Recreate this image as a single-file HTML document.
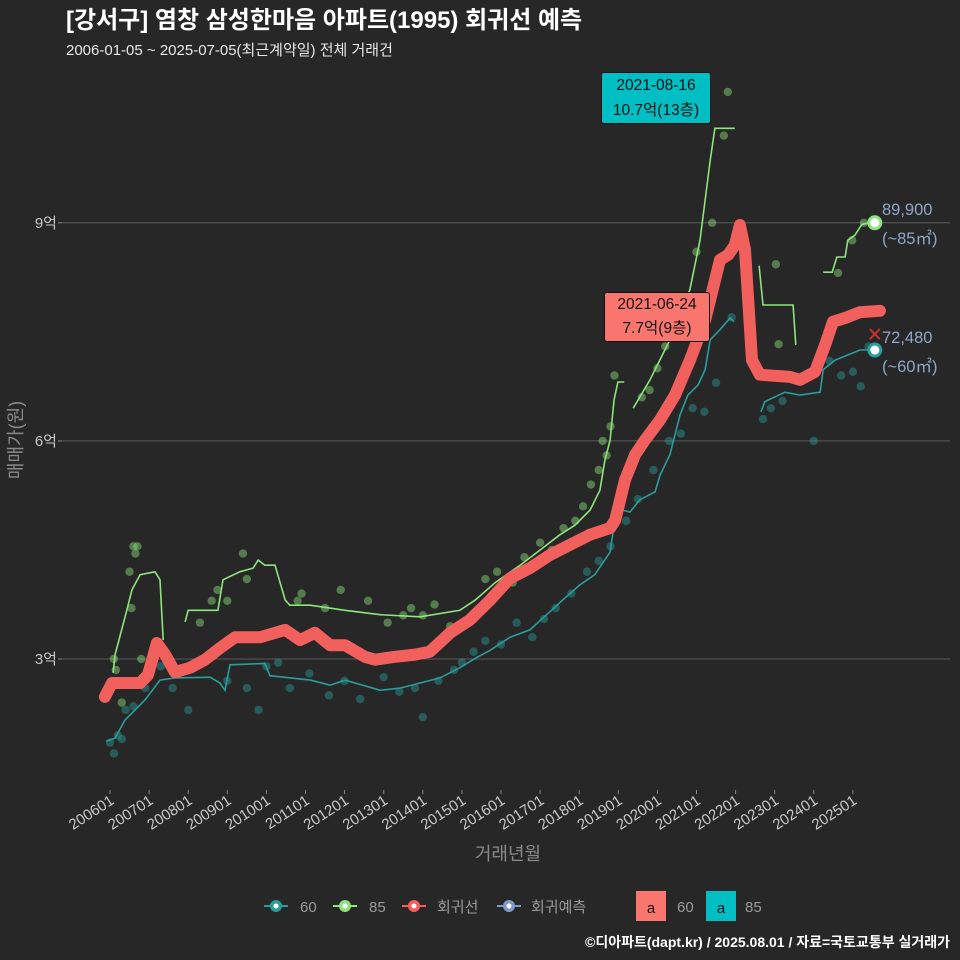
<!DOCTYPE html>
<html><head><meta charset="utf-8">
<style>
body{margin:0;background:#272727;}
svg{display:block;font-family:"Liberation Sans","Noto Sans CJK KR",sans-serif;}
</style></head>
<body>
<svg id="chart" width="960" height="960" viewBox="0 0 960 960">
<rect width="960" height="960" fill="#272727"/>
<text x="66" y="28" fill="#ffffff" font-size="24" font-weight="bold">[강서구] 염창 삼성한마음 아파트(1995) 회귀선 예측</text>
<text x="66" y="55" fill="#e8e8e8" font-size="15">2006-01-05 ~ 2025-07-05(최근계약일) 전체 거래건</text>
<g id="grid"></g>
<g id="yaxis"></g>
<g id="xaxis"></g>
<g id="points"></g>
<g id="lines"></g>
<text x="0" y="0" transform="translate(22,440) rotate(-90)" text-anchor="middle" fill="#8a8a8a" font-size="18">매매가(원)</text>
<text x="508" y="860" text-anchor="middle" fill="#8a8a8a" font-size="18">거래년월</text>
<g font-size="15" fill="#9a9a9a">
 <g><line x1="264" y1="906" x2="288" y2="906" stroke="#2a9d9c" stroke-width="2"/><circle cx="276" cy="906" r="6" fill="#2a9d9c"/><circle cx="276" cy="906" r="2.5" fill="#fff"/><text x="300" y="912" fill="#9a9a9a">60</text></g>
 <g><line x1="333" y1="906" x2="357" y2="906" stroke="#8fe47d" stroke-width="2"/><circle cx="345" cy="906" r="6" fill="#8fe47d"/><circle cx="345" cy="906" r="2.5" fill="#fff"/><text x="369" y="912" fill="#9a9a9a">85</text></g>
 <g><line x1="402" y1="906" x2="426" y2="906" stroke="#f2605e" stroke-width="2"/><circle cx="414" cy="906" r="6" fill="#f2605e"/><circle cx="414" cy="906" r="2.5" fill="#fff"/><text x="437" y="912" fill="#9a9a9a">회귀선</text></g>
 <g><line x1="497" y1="906" x2="521" y2="906" stroke="#7f9bc5" stroke-width="2"/><circle cx="509" cy="906" r="6" fill="#7f9bc5"/><circle cx="509" cy="906" r="2.5" fill="#fff"/><text x="531" y="912" fill="#9a9a9a">회귀예측</text></g>
 <g><rect x="636" y="891" width="30" height="30" fill="#f8766d"/><text x="651" y="913" text-anchor="middle" fill="#111">a</text><text x="677" y="912" fill="#9a9a9a">60</text></g>
 <g><rect x="706" y="891" width="30" height="30" fill="#00bfc4"/><text x="721" y="913" text-anchor="middle" fill="#111">a</text><text x="745" y="912" fill="#9a9a9a">85</text></g>
</g>
<text x="950" y="947" text-anchor="end" fill="#ffffff" font-size="14" font-weight="bold">©디아파트(dapt.kr) / 2025.08.01 / 자료=국토교통부 실거래가</text>
</svg>
<script>
const yTicks=[3,6,9];
const yTickLabels=["3억","6억","9억"];
const xTickYears=[2006,2007,2008,2009,2010,2011,2012,2013,2014,2015,2016,2017,2018,2019,2020,2021,2022,2023,2024,2025];
const xTickLabels=["200601","200701","200801","200901","201001","201101","201201","201301","201401","201501","201601","201701","201801","201901","202001","202101","202201","202301","202401","202501"];
const regT=[2005.87,2006.05,2006.26,2006.77,2006.97,2007.20,2007.41,2007.66,2008.05,2008.43,2008.81,2009.20,2009.84,2010.48,2010.86,2011.24,2011.63,2012.01,2012.52,2012.78,2013.29,2013.80,2014.18,2014.70,2015.21,2015.72,2016.23,2016.74,2017.25,2017.76,2018.28,2018.79,2018.92,2019.17,2019.43,2019.68,2020.07,2020.45,2020.83,2021.22,2021.60,2021.81,2021.98,2022.11,2022.24,2022.42,2022.62,2023.39,2023.65,2024.03,2024.29,2024.49,2024.80,2025.18,2025.69];
const regV=[2.48,2.67,2.67,2.67,2.78,3.22,3.06,2.82,2.88,2.99,3.15,3.30,3.30,3.40,3.26,3.36,3.19,3.19,3.03,2.99,3.03,3.06,3.10,3.36,3.54,3.81,4.11,4.25,4.43,4.57,4.71,4.80,4.91,5.46,5.81,6.01,6.29,6.63,7.11,7.66,8.49,8.56,8.69,8.97,8.63,7.11,6.91,6.88,6.84,6.95,7.32,7.64,7.69,7.77,7.79];
const g85T=[[2006.08,2006.13,2006.43,2006.56,2006.77,2007.15,2007.28,2007.36],[2007.92,2008.0,2008.76,2008.89,2009.32,2009.66,2009.79,2009.96,2010.22,2010.48,2010.6,2011.12,2012.01,2012.91,2013.93,2014.95,2015.34,2015.85,2016.49,2017.0,2017.51,2017.89,2018.28,2018.53,2018.66,2018.79,2018.89,2018.99,2019.15],[2019.38,2019.81,2020.32,2020.83,2021.09,2021.22,2021.35,2021.47,2021.98],[2022.60,2022.70,2023.47,2023.54],[2024.24,2024.47,2024.59,2024.80,2024.87,2025.05,2025.23,2025.56]];
const g85V=[[2.81,3.06,3.67,3.95,4.16,4.20,4.09,3.26],[3.51,3.67,3.67,4.09,4.20,4.25,4.36,4.29,4.29,3.81,3.74,3.74,3.67,3.61,3.58,3.67,3.81,4.05,4.29,4.50,4.71,4.84,5.05,5.32,5.74,6.01,6.56,6.81,6.81],[6.45,6.84,7.39,8.08,8.76,9.31,9.86,10.30,10.30],[8.41,7.87,7.87,7.32],[8.32,8.32,8.53,8.53,8.76,8.83,8.98,9.01]];
const g60T=[[2005.9,2006.13,2006.38,2006.9,2007.28,2007.66,2008.56,2008.81,2008.94,2009.07,2009.96,2010.09,2011.12,2011.63,2012.01,2012.91,2013.42,2013.93,2014.44,2014.95,2015.34,2015.72,2016.23,2016.74,2017.25,2017.64,2018.02,2018.40,2018.79,2018.99,2019.09,2019.30,2019.55,2019.94,2020.07,2020.32,2020.58,2020.78,2021.04,2021.22,2021.35,2021.60,2021.86,2021.96],[2022.65,2022.75,2023.26,2023.65,2024.16,2024.24,2024.54,2025.18,2025.56]];
const g60V=[[1.87,1.91,2.16,2.44,2.71,2.74,2.75,2.67,2.57,2.92,2.94,2.77,2.71,2.64,2.71,2.57,2.60,2.67,2.74,2.88,3.01,3.12,3.30,3.40,3.65,3.84,4.02,4.16,4.47,5.19,5.05,5.02,5.19,5.30,5.53,5.81,6.36,6.63,6.77,6.98,7.39,7.53,7.69,7.64],[6.40,6.54,6.67,6.63,6.67,6.98,7.11,7.25,7.25]];
const p85T=[2006.1,2006.15,2006.3,2006.5,2006.55,2006.6,2006.7,2006.65,2006.8,2008.3,2008.6,2008.75,2009.0,2009.4,2009.5,2010.8,2010.9,2011.5,2011.9,2012.6,2013.1,2013.5,2013.7,2014.0,2014.3,2014.7,2015.3,2015.6,2015.9,2016.3,2016.6,2017.0,2017.3,2017.6,2017.9,2018.1,2018.3,2018.5,2018.7,2018.8,2018.6,2018.9,2019.6,2019.8,2020.0,2020.2,2021.0,2021.4,2021.8,2021.7,2023.03,2023.1,2024.62,2024.98,2025.28];
const p85V=[3.0,2.85,2.4,4.2,3.7,4.55,4.55,4.45,3.0,3.5,3.8,3.95,3.8,4.45,4.1,3.8,3.9,3.7,3.95,3.8,3.5,3.6,3.7,3.6,3.75,3.45,3.55,4.1,4.2,4.05,4.4,4.6,4.5,4.8,4.9,5.1,5.4,5.6,5.8,6.2,6.0,6.9,6.6,6.7,7.0,7.3,8.6,9.0,10.8,10.2,8.43,7.33,8.31,8.76,9.0];
const p60T=[2006.0,2006.1,2006.2,2006.3,2006.4,2006.6,2006.9,2007.3,2007.6,2008.0,2009.0,2009.5,2009.8,2010.0,2010.3,2010.6,2011.1,2011.6,2012.0,2012.4,2013.0,2013.4,2013.8,2014.0,2014.4,2014.8,2015.0,2015.3,2015.6,2016.0,2016.4,2016.8,2017.1,2017.4,2017.8,2018.2,2018.5,2018.8,2019.2,2019.5,2019.9,2020.3,2020.6,2020.9,2021.2,2021.5,2021.9,2022.7,2022.9,2023.2,2024.0,2024.4,2024.7,2025.0,2025.2,2025.4];
const p60V=[1.85,1.7,1.95,1.9,2.3,2.35,2.6,2.9,2.6,2.3,2.7,2.6,2.3,2.9,2.95,2.6,2.8,2.5,2.7,2.45,2.75,2.55,2.6,2.2,2.7,2.85,2.95,3.1,3.25,3.2,3.5,3.3,3.55,3.7,3.9,4.2,4.35,4.55,4.9,5.2,5.6,6.0,6.1,6.45,6.4,6.8,7.7,6.3,6.45,6.55,6.0,7.1,6.9,6.95,6.75,7.3];
const end85=[2025.56,9.0], end60=[2025.56,7.25], endPred=[2025.56,7.47];

const NS="http://www.w3.org/2000/svg";
const X=t=>110+(t-2006)*39.1;
const Y=v=>659-(v-3)*72.7;
function mk(tag,parent,attrs){const e=document.createElementNS(NS,tag);for(const k in attrs)e.setAttribute(k,attrs[k]);parent.appendChild(e);return e;}
const grid=document.getElementById('grid'),yax=document.getElementById('yaxis'),xax=document.getElementById('xaxis');
yTicks.forEach((v,i)=>{
 const l=mk('line',grid,{x1:62,x2:950,y1:Y(v),y2:Y(v),stroke:'#5a5a5a','stroke-width':1});
 
 
 const tk=mk('line',yax,{x1:58,x2:62,y1:Y(v),y2:Y(v),stroke:'#888'});
 
 
 const t=mk('text',yax,{x:57,y:Y(v)+5,'text-anchor':'end',fill:'#c8c8c8','font-size':15});
 t.textContent=yTickLabels[i];
 
 
});
xTickYears.forEach((yr,i)=>{
 const x=X(yr);
 const tk=mk('line',xax,{x1:x,x2:x,y1:790,y2:794,stroke:'#888'});
 
 
 const t=mk('text',xax,{x:0,y:0,transform:`translate(${x+5},${803}) rotate(-33)`,'text-anchor':'end',fill:'#c8c8c8','font-size':15});
 t.textContent=xTickLabels[i];
 
 
});
const pts=document.getElementById('points');
p60T.forEach((t,i)=>{const c=mk('circle',pts,{cx:X(t),cy:Y(p60V[i]),r:4.2,fill:'#2a9d9c','fill-opacity':0.45});
 
 });
p85T.forEach((t,i)=>{const c=mk('circle',pts,{cx:X(t),cy:Y(p85V[i]),r:4.2,fill:'#8fe47d','fill-opacity':0.45});
 
 });
const lines=document.getElementById('lines');
const path=(T,V)=>T.map((t,i)=>(i?'L':'M')+X(t).toFixed(1)+','+Y(V[i]).toFixed(1)).join('');
g60T.forEach((T,k)=>{const p=mk('path',lines,{d:path(T,g60V[k]),fill:'none',stroke:'#2a9d9c','stroke-width':1.6});
 
 });
g85T.forEach((T,k)=>{const p=mk('path',lines,{d:path(T,g85V[k]),fill:'none',stroke:'#8fe47d','stroke-width':1.6});
 
 });
const rp=mk('path',lines,{d:path(regT,regV),fill:'none',stroke:'#f2605e','stroke-width':12,'stroke-linecap':'round','stroke-linejoin':'round'});


const e85=mk('circle',lines,{cx:X(end85[0]),cy:Y(end85[1]),r:6,fill:'#fff',stroke:'#8fe47d','stroke-width':3});


const e60=mk('circle',lines,{cx:X(end60[0]),cy:Y(end60[1]),r:6,fill:'#fff',stroke:'#2a9d9c','stroke-width':3});


const ex=X(endPred[0]),ey=Y(endPred[1]);
const xm=mk('path',lines,{d:`M${ex-5},${ey-5}L${ex+5},${ey+5}M${ex-5},${ey+5}L${ex+5},${ey-5}`,stroke:'#d0302c','stroke-width':2});


</script>
<div style="position:absolute;left:0;top:0;width:960px;height:960px;pointer-events:none;font-family:'Liberation Sans','Noto Sans CJK KR',sans-serif;">
 <div style="position:absolute;left:601px;top:72px;width:110px;height:52px;background:#00bfc4;border:1px solid #111;border-radius:3px;color:#111;font-size:15.5px;text-align:center;line-height:25px;box-sizing:border-box;">2021-08-16<br>10.7억(13층)</div>
 <div style="position:absolute;left:604px;top:292px;width:106px;height:50px;background:#f8766d;border:1px solid #111;border-radius:3px;color:#111;font-size:15.5px;text-align:center;line-height:24px;box-sizing:border-box;">2021-06-24<br>7.7억(9층)</div>
 <div style="position:absolute;left:882px;top:196px;color:#8fa6c8;font-size:16.5px;line-height:29px;">89,900<br>(~85㎡)</div>
 <div style="position:absolute;left:882px;top:324px;color:#8fa6c8;font-size:16.5px;line-height:29px;">72,480<br>(~60㎡)</div>
</div>
</body></html>
